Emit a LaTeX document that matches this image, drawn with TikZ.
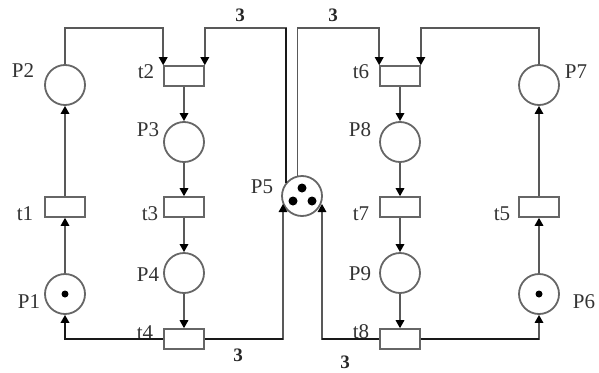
\documentclass[tikz,border=0pt]{standalone}
\usepackage{fontspec}
\setmainfont{Liberation Serif}
\usetikzlibrary{arrows.meta}
\begin{document}
\begin{tikzpicture}[x=1pt,y=-1pt,
 place/.style={circle,draw=black!60,line width=1.8pt,minimum size=40pt,inner sep=0pt},
 trans/.style={rectangle,draw=black!60,line width=1.6pt,minimum width=40pt,minimum height=20pt,inner sep=0pt},
 lbl/.style={font=\fontsize{21}{21}\selectfont,inner sep=0pt,text=black!80},
 wt/.style={font=\bfseries\fontsize{19}{19}\selectfont,inner sep=0pt,text=black!85},
 arc/.style={draw=black!65,line width=1.6pt,-{Triangle[width=8.5pt,length=8pt,color=black]}},
 heavy/.style={draw=black!90,line width=2.6pt},
 tok/.style={circle,fill=black,inner sep=0pt,minimum size=7pt}
]
\useasboundingbox (0,0) rectangle (599,372);
\coordinate (ytop) at (0,28);
% places
\node[place] (P1) at (65,294) {};
\node[place] (P2) at (65,85) {};
\node[place] (P3) at (184,142) {};
\node[place] (P4) at (184,273) {};
\node[place] (P5) at (302,196) {};
\node[place] (P6) at (539,294) {};
\node[place] (P7) at (539,85) {};
\node[place] (P8) at (400,142) {};
\node[place] (P9) at (400,273) {};
% tokens
\node[tok] (k1) at (P1) {};
\node[tok] (k6) at (P6) {};
\node[tok,minimum size=9pt] (k5a) at (302,188) {};
\node[tok,minimum size=9pt] (k5b) at (293,201) {};
\node[tok,minimum size=9pt] (k5c) at (312,201) {};
% transitions
\node[trans] (t1) at (65,207) {};
\node[trans] (t2) at (184,76) {};
\node[trans] (t3) at (184,207) {};
\node[trans] (t4) at (184,339) {};
\node[trans] (t5) at (539,207) {};
\node[trans] (t6) at (400,76) {};
\node[trans] (t7) at (400,207) {};
\node[trans] (t8) at (400,339) {};
% free ends at P5
\coordinate (a5l) at (283,204);
\coordinate (a5r) at (322,204);
% labels
\node[lbl] (LP1) at (29,302) {P1};
\node[lbl] (LP2) at (23,71) {P2};
\node[lbl] (LP3) at (148,130) {P3};
\node[lbl] (LP4) at (148,275) {P4};
\node[lbl] (LP5) at (262,187) {P5};
\node[lbl] (LP6) at (584,302) {P6};
\node[lbl] (LP7) at (576,72) {P7};
\node[lbl] (LP8) at (360,130) {P8};
\node[lbl] (LP9) at (360,274) {P9};
\node[lbl] (Lt1) at (25,214) {t1};
\node[lbl] (Lt2) at (146,72) {t2};
\node[lbl] (Lt3) at (150,214) {t3};
\node[lbl] (Lt4) at (145,333) {t4};
\node[lbl] (Lt5) at (502,214) {t5};
\node[lbl] (Lt6) at (361,72) {t6};
\node[lbl] (Lt7) at (361,214) {t7};
\node[lbl] (Lt8) at (361,332) {t8};
\node[wt] (w1) at (240,15) {3};
\node[wt] (w2) at (333,15) {3};
\node[wt] (w3) at (238,355) {3};
\node[wt] (w4) at (345,362) {3};
% arcs left
\draw[arc] (P1) -- (t1);
\draw[arc] (t1) -- (P2);
\draw[arc] (P2.north) |- (t2.north west |- ytop) -- (t2.north west);
\draw[arc] (P5.140) |- (t2.north east |- ytop) -- (t2.north east);
\draw[heavy] (P5.140) -- (P5.140 |- ytop);
\draw[arc] (t2) -- (P3);
\draw[arc] (P3) -- (t3);
\draw[arc] (t3) -- (P4);
\draw[arc] (P4) -- (t4);
\draw[arc,draw=black!90,line width=2.4pt] (t4.west) -| (P1.south);
\draw[arc] (t4.east) -| (a5l);
\draw[heavy] (t4.east) -- (t4.east -| a5l);
% arcs right
\draw[arc] (P5.102) |- (t6.north west |- ytop) -- (t6.north west);
\draw[arc] (P7.north) |- (t6.north east |- ytop) -- (t6.north east);
\draw[arc] (t6) -- (P8);
\draw[arc] (P8) -- (t7);
\draw[arc] (t7) -- (P9);
\draw[arc] (P9) -- (t8);
\draw[arc] (t8.west) -| (a5r);
\draw[heavy] (t8.west) -- (t8.west -| a5r);
\draw[arc] (t8.east) -| (P6.south);
\draw[heavy] (t8.east) -- (t8.east -| P6.south);
\draw[arc] (P6) -- (t5);
\draw[arc] (t5) -- (P7);
\end{tikzpicture}
\end{document}
